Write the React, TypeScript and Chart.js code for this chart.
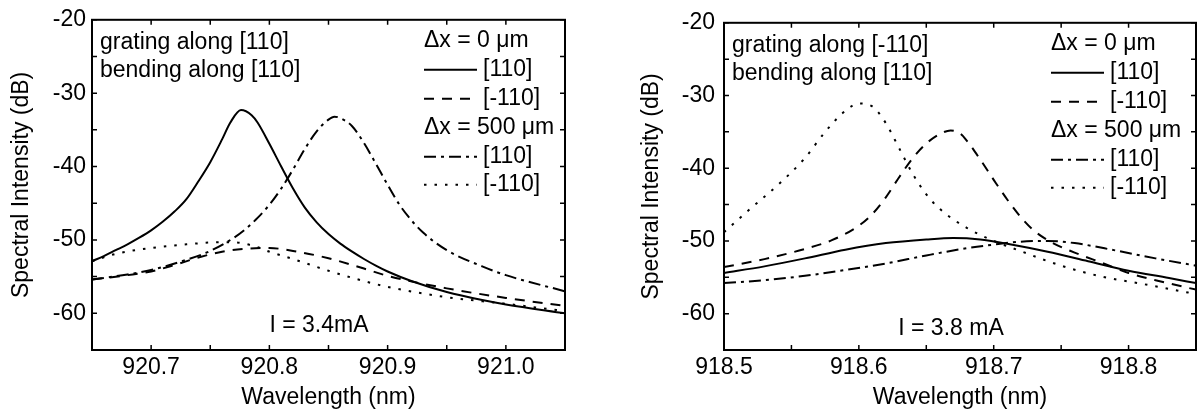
import React, { useEffect, useRef } from 'react';
import { Chart, registerables } from 'chart.js';

Chart.register(...registerables);

type Pt = [number, number];

const FONT = "'Liberation Sans', Arial, Helvetica, sans-serif";
const FS = 23;

// ---- text ----
const legendHeaders = ['Δx = 0 μm', 'Δx = 500 μm'];
const seriesLabels = ['[110]', '[-110]', '[110]', '[-110]'];
const leftNotes = ['grating along [110]', 'bending along [110]'];
const rightNotes = ['grating along [-110]', 'bending along [110]'];
const leftCurrent = 'I = 3.4mA';
const rightCurrent = 'I = 3.8 mA';
const xTitle = 'Wavelength (nm)';
const yTitle = 'Spectral Intensity (dB)';

// ---- axis ranges ----
const leftRange: Pt = [920.65, 921.05];
const rightRange: Pt = [918.5, 918.85];
const yRange: Pt = [-65, -20];

// ---- left panel: grating along [110] ----
const leftDx0_110: Pt[] = [
  [920.65, -52.9], [920.66, -52.2], [920.67, -51.4], [920.68, -50.6], [920.69, -49.7],
  [920.70, -48.7], [920.71, -47.5], [920.72, -46.1], [920.73, -44.4], [920.74, -42.0],
  [920.75, -39.4], [920.76, -36.3], [920.767, -34.0], [920.776, -32.3], [920.785, -33.0],
  [920.79, -34.0], [920.80, -36.9], [920.81, -40.0], [920.82, -43.0], [920.83, -45.6],
  [920.84, -47.6], [920.85, -49.2], [920.86, -50.5], [920.87, -51.6], [920.88, -52.6],
  [920.89, -53.5], [920.90, -54.3], [920.92, -55.6], [920.95, -57.1], [920.98, -58.2],
  [921.00, -58.8], [921.05, -60.0],
];
const leftDx0_m110: Pt[] = [
  [920.65, -55.4], [920.68, -54.8], [920.70, -54.3], [920.72, -53.4], [920.74, -52.4],
  [920.76, -51.6], [920.78, -51.2], [920.80, -51.1], [920.82, -51.5], [920.85, -52.5],
  [920.88, -53.9], [920.90, -54.9], [920.95, -56.6], [921.00, -57.9], [921.05, -59.0],
];
const leftDx500_110: Pt[] = [
  [920.65, -55.4], [920.68, -54.7], [920.70, -54.1], [920.73, -52.7], [920.75, -51.5],
  [920.77, -49.7], [920.78, -48.5], [920.79, -47.0], [920.80, -45.2], [920.81, -43.0],
  [920.82, -40.4], [920.83, -37.6], [920.84, -35.2], [920.85, -33.6], [920.855, -33.2],
  [920.86, -33.4], [920.87, -34.5], [920.88, -36.8], [920.89, -39.6], [920.90, -42.5],
  [920.91, -45.2], [920.92, -47.3], [920.93, -49.0], [920.95, -51.4], [920.98, -53.6],
  [921.00, -54.8], [921.05, -57.0],
];
const leftDx500_m110: Pt[] = [
  [920.65, -52.9], [920.67, -51.9], [920.70, -51.1], [920.73, -50.6], [920.76, -50.3],
  [920.775, -50.4], [920.79, -51.0], [920.80, -51.6], [920.82, -52.6], [920.85, -54.2],
  [920.88, -55.6], [920.90, -56.4], [920.95, -57.8], [921.00, -58.7], [921.05, -59.7],
];

// ---- right panel: grating along [-110] ----
const rightDx0_110: Pt[] = [
  [918.50, -54.4], [918.53, -53.5], [918.56, -52.4], [918.59, -51.2], [918.62, -50.3],
  [918.65, -49.8], [918.67, -49.6], [918.69, -49.8], [918.71, -50.4], [918.74, -51.5],
  [918.77, -52.8], [918.80, -54.1], [918.83, -55.1], [918.85, -55.8],
];
const rightDx0_m110: Pt[] = [
  [918.50, -53.6], [918.53, -52.5], [918.56, -51.1], [918.58, -49.9], [918.60, -47.9],
  [918.61, -46.3], [918.62, -44.0], [918.63, -41.2], [918.64, -38.6], [918.65, -36.6],
  [918.66, -35.3], [918.668, -34.8], [918.675, -35.2], [918.68, -36.2], [918.69, -38.8],
  [918.70, -41.6], [918.71, -44.3], [918.72, -46.7], [918.73, -48.6], [918.745, -50.4],
  [918.76, -51.6], [918.78, -53.0], [918.80, -54.4], [918.82, -55.4], [918.85, -56.7],
];
const rightDx500_110: Pt[] = [
  [918.50, -55.8], [918.53, -55.4], [918.56, -54.8], [918.59, -54.0], [918.62, -53.1],
  [918.65, -52.0], [918.68, -51.0], [918.70, -50.5], [918.72, -50.1], [918.74, -50.0],
  [918.76, -50.3], [918.79, -51.3], [918.82, -52.4], [918.85, -53.4],
];
const rightDx500_m110: Pt[] = [
  [918.50, -48.8], [918.52, -45.5], [918.54, -42.3], [918.56, -38.6], [918.575, -35.0],
  [918.59, -32.1], [918.60, -31.1], [918.61, -31.5], [918.62, -33.8], [918.63, -37.3],
  [918.64, -40.8], [918.65, -43.6], [918.66, -45.6], [918.68, -48.2], [918.70, -50.0],
  [918.72, -51.4], [918.75, -53.4], [918.78, -54.9], [918.81, -55.9], [918.85, -57.3],
];

const dashStyles: number[][] = [[], [10, 8], [12, 5, 3, 5], [2.5, 8]];

interface PanelProps {
  range: Pt;
  series: Pt[][];
  notes: string[];
  current: string;
  yAxisWidth: number;
  yTickPad: number;
  yTitlePad: number;
  rightPad: number;
  legendFromRight: number;
}

function makeDecor(p: PanelProps) {
  return {
    id: 'decor',
    afterDraw(chart: any) {
      const { ctx, chartArea: a } = chart;
      const xs = chart.scales.x;
      const ys = chart.scales.y;
      ctx.save();
      ctx.strokeStyle = '#000';
      ctx.setLineDash([]);
      ctx.lineWidth = 1.5;
      const T = 5;
      ctx.beginPath();
      xs.ticks.forEach((t: any) => {
        const px = xs.getPixelForValue(t.value);
        ctx.moveTo(px, a.bottom);
        ctx.lineTo(px, a.bottom - T);
        ctx.moveTo(px, a.top);
        ctx.lineTo(px, a.top + T);
      });
      ys.ticks.forEach((t: any) => {
        const py = ys.getPixelForValue(t.value);
        ctx.moveTo(a.left, py);
        ctx.lineTo(a.left + T, py);
        ctx.moveTo(a.right, py);
        ctx.lineTo(a.right - T, py);
      });
      ctx.stroke();
      ctx.lineWidth = 2;
      ctx.strokeRect(a.left, a.top, a.right - a.left, a.bottom - a.top);

      ctx.fillStyle = '#000';
      ctx.font = `${FS}px ${FONT}`;
      ctx.textBaseline = 'middle';
      ctx.textAlign = 'left';
      const noteY = [a.top + 23, a.top + 51];
      p.notes.forEach((s, i) => ctx.fillText(s, a.left + 8, noteY[i]));

      // legend
      const lx = a.right - p.legendFromRight;
      const rows = [21, 50, 79, 108, 137, 165].map((d) => a.top + d);
      const sampleLen = 53;
      const ds = chart.data.datasets;
      const drawSample = (idx: number, y: number) => {
        ctx.save();
        ctx.lineWidth = ds[idx].borderWidth;
        ctx.setLineDash(ds[idx].borderDash || []);
        ctx.beginPath();
        ctx.moveTo(lx, y);
        ctx.lineTo(lx + sampleLen, y);
        ctx.stroke();
        ctx.restore();
        ctx.fillText(ds[idx].label, lx + sampleLen + 6, y);
      };
      ctx.fillText(legendHeaders[0], lx, rows[0]);
      drawSample(0, rows[1]);
      drawSample(1, rows[2]);
      ctx.fillText(legendHeaders[1], lx, rows[3]);
      drawSample(2, rows[4]);
      drawSample(3, rows[5]);

      ctx.textAlign = 'center';
      ctx.fillText(p.current, a.left + 227, a.top + 306);
      ctx.restore();
    },
  };
}

function Panel(p: PanelProps) {
  const ref = useRef<HTMLCanvasElement>(null);
  useEffect(() => {
    if (!ref.current) return;
    const tickFont = { family: FONT, size: FS };
    const chart = new Chart(ref.current, {
      type: 'line',
      data: {
        datasets: p.series.map((s, i) => ({
          label: seriesLabels[i],
          data: s.map(([x, y]) => ({ x, y })),
          borderColor: '#000',
          borderWidth: 2,
          borderDash: dashStyles[i],
          pointRadius: 0,
          fill: false,
          tension: 0.3,
          cubicInterpolationMode: 'monotone' as const,
        })),
      },
      options: {
        animation: false,
        responsive: false,
        maintainAspectRatio: false,
        devicePixelRatio: 1,
        layout: { padding: { top: 19, right: p.rightPad, left: 0, bottom: 0 } },
        plugins: { legend: { display: false }, tooltip: { enabled: false } },
        scales: {
          x: {
            type: 'linear',
            min: p.range[0],
            max: p.range[1],
            grid: { display: false, drawTicks: false },
            border: { display: false },
            ticks: {
              stepSize: 0.05,
              autoSkip: false,
              maxRotation: 0,
              padding: 4,
              color: '#000',
              font: tickFont,
              callback: (v: any) => {
                const n = Number(v);
                return Math.abs(n * 10 - Math.round(n * 10)) < 1e-4 ? n.toFixed(1) : '';
              },
            },
            title: {
              display: true,
              text: xTitle,
              color: '#000',
              font: { family: FONT, size: FS, lineHeight: 1 },
              padding: { top: 0, bottom: 0 },
            },
            afterFit: (s: any) => {
              s.height = 59;
            },
          },
          y: {
            type: 'linear',
            min: yRange[0],
            max: yRange[1],
            grid: { display: false, drawTicks: false },
            border: { display: false },
            ticks: {
              stepSize: 5,
              autoSkip: false,
              padding: p.yTickPad,
              color: '#000',
              font: tickFont,
              callback: (v: any) => {
                const n = Number(v);
                return Math.abs(n % 10) < 1e-6 ? String(Math.round(n)) : '';
              },
            },
            title: {
              display: true,
              text: yTitle,
              color: '#000',
              font: { family: FONT, size: FS, lineHeight: 1.2 },
              padding: { top: p.yTitlePad, bottom: 0 },
            },
            afterFit: (s: any) => {
              s.width = p.yAxisWidth;
            },
          },
        },
      },
      plugins: [makeDecor(p)],
    } as any);
    return () => chart.destroy();
  }, []);
  return (
    <canvas
      ref={ref}
      width={600}
      height={409}
      style={{ display: 'block', width: 600, height: 409 }}
    />
  );
}

export default function App() {
  return (
    <div
      style={{
        position: 'fixed',
        left: 0,
        top: 0,
        width: 1200,
        height: 409,
        display: 'flex',
        background: '#fff',
      }}
    >
      <Panel
        range={leftRange}
        series={[leftDx0_110, leftDx0_m110, leftDx500_110, leftDx500_m110]}
        notes={leftNotes}
        current={leftCurrent}
        yAxisWidth={92}
        yTickPad={6}
        yTitlePad={8}
        rightPad={35}
        legendFromRight={141}
      />
      <Panel
        range={rightRange}
        series={[rightDx0_110, rightDx0_m110, rightDx500_110, rightDx500_m110]}
        notes={rightNotes}
        current={rightCurrent}
        yAxisWidth={124}
        yTickPad={9}
        yTitlePad={38}
        rightPad={3}
        legendFromRight={145}
      />
    </div>
  );
}
